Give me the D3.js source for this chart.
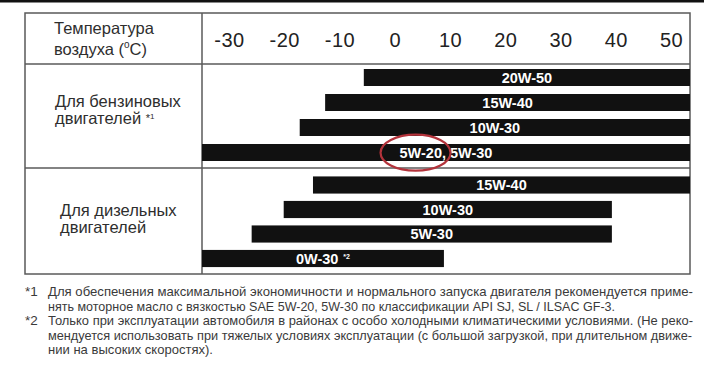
<!DOCTYPE html>
<html>
<head>
<meta charset="utf-8">
<script src="https://cdn.jsdelivr.net/npm/d3@7"></script>
<style>
  html, body { margin: 0; padding: 0; background: #fff; }
  svg { display: block; }
  text { font-family: "Liberation Sans", Arial, sans-serif; }
</style>
</head>
<body>
<script>
// ---------- data ----------
const tempTicks = [-30, -20, -10, 0, 10, 20, 30, 40, 50];

const petrolGrades = ["20W-50", "15W-40", "10W-30", "5W-20, 5W-30"];
const petrolFrom   = [-5.6, -12.6, -17.2, -40];
const petrolTo     = [60, 60, 60, 60];
const petrolNotes  = ["", "", "", ""];

const dieselGrades = ["15W-40", "10W-30", "5W-30", "0W-30"];
const dieselFrom   = [-14.8, -20.1, -25.9, -40];
const dieselTo     = [60, 39.3, 39.3, 8.9];
const dieselNotes  = ["", "", "", "*2"];

const headerLines = ["Температура", "воздуха ("];
const petrolLabel = ["Для бензиновых", "двигателей "];
const dieselLabel = ["Для дизельных", "двигателей"];

const footMarks = ["*1", "", "*2", "", ""];
const footLines = [
  "Для обеспечения максимальной экономичности и нормального запуска двигателя рекомендуется приме-",
  "нять моторное масло с вязкостью SAE 5W-20, 5W-30 по классификации API SJ, SL / ILSAC GF-3.",
  "Только при эксплуатации автомобиля в районах с особо холодными климатическими условиями. (Не реко-",
  "мендуется использовать при тяжелых условиях эксплуатации (с большой загрузкой, при длительном движе-",
  "нии на высоких скоростях)."
];
const footWidths = [645, 567, 645, 644, 165];

// ---------- layout ----------
const W = 712, H = 373;
const tableL = 25, tableR = 690, tableT = 13, headerB = 64, sepY = 168, tableB = 274, divX = 202;

const svg = d3.select("body").append("svg").attr("width", W).attr("height", H);
svg.append("rect").attr("width", W).attr("height", H).attr("fill", "#fff");

// top dark scan edge
svg.append("rect").attr("x", 0).attr("y", 0).attr("width", 704).attr("height", 2.5).attr("fill", "#111");

const x = d3.scaleLinear().domain([-30, 50]).range([229, 671]);

const yPetrol = d3.scaleBand().domain(petrolGrades.map((d, i) => i)).range([65, 165]).paddingInner(0.32).paddingOuter(0.16);
const yDiesel = d3.scaleBand().domain(dieselGrades.map((d, i) => i)).range([172.75, 270.75]).paddingInner(0.3).paddingOuter(0.15);

// clip for the bar area
svg.append("clipPath").attr("id", "plotClip")
  .append("rect").attr("x", divX).attr("y", headerB).attr("width", tableR - divX).attr("height", tableB - headerB);

// ---------- table lines ----------
const lineColor = "#5a5a5a";
const grid = svg.append("g").attr("stroke", lineColor).attr("stroke-width", 1.5).attr("fill", "none");
grid.append("rect").attr("x", tableL).attr("y", tableT).attr("width", tableR - tableL).attr("height", tableB - tableT);
grid.append("line").attr("x1", divX).attr("x2", divX).attr("y1", tableT).attr("y2", tableB);
grid.append("line").attr("x1", tableL).attr("x2", tableR).attr("y1", headerB).attr("y2", headerB);
grid.append("line").attr("x1", tableL).attr("x2", tableR).attr("y1", sepY).attr("y2", sepY);

// ---------- axis (temperature labels) ----------
const axis = d3.axisBottom(x).tickValues(tempTicks).tickSize(0).tickPadding(0).tickFormat(d => String(d));
const ag = svg.append("g").attr("transform", "translate(0,33)").call(axis);
ag.select(".domain").remove();
ag.selectAll("text").attr("font-size", 20).attr("fill", "#222")
  .attr("font-family", "'Liberation Sans', Arial, sans-serif").style("letter-spacing", "0.5px");

// ---------- header / row labels ----------
const lab = svg.append("g").attr("fill", "#2e2e2e").attr("font-size", 16.5);
lab.append("text").attr("x", 54).attr("y", 34).text(headerLines[0]);
const h2 = lab.append("text").attr("x", 54).attr("y", 55).text(headerLines[1]);
h2.append("tspan").attr("font-size", 10).attr("dy", -7).text("o");
h2.append("tspan").attr("dy", 7).text("C)");

lab.append("text").attr("x", 55).attr("y", 107).text(petrolLabel[0]);
const p2 = lab.append("text").attr("x", 55).attr("y", 124).text(petrolLabel[1]);
p2.append("tspan").attr("font-size", 11).attr("dy", -2).text("*");
p2.append("tspan").attr("font-size", 8).attr("dy", -3).text("1");

lab.append("text").attr("x", 60).attr("y", 216).text(dieselLabel[0]);
lab.append("text").attr("x", 60).attr("y", 233).text(dieselLabel[1]);

// ---------- bars ----------
function drawGroup(grades, from, to, notes, yScale) {
  const rows = grades.map((g, i) => ({ g, i, from: from[i], to: to[i], note: notes[i] }));
  const gb = svg.append("g").attr("clip-path", "url(#plotClip)");
  gb.selectAll("rect").data(rows).join("rect")
    .attr("x", d => x(d.from))
    .attr("width", d => x(d.to) - x(d.from))
    .attr("y", d => yScale(d.i))
    .attr("height", yScale.bandwidth())
    .attr("fill", "#111");
  const labels = svg.append("g").selectAll("text").data(rows).join("text")
    .attr("x", d => (Math.max(x(d.from), divX) + Math.min(x(d.to), tableR)) / 2)
    .attr("y", d => yScale(d.i) + yScale.bandwidth() / 2)
    .attr("dy", "0.36em")
    .attr("text-anchor", "middle")
    .attr("fill", "#fff")
    .attr("font-weight", "bold")
    .attr("font-size", 14.5)
    .text(d => d.g);
  labels.filter(d => d.note).append("tspan").attr("font-size", 7).attr("dx", 5).attr("dy", -5).text(d => d.note);
  return labels;
}
const petrolLabels = drawGroup(petrolGrades, petrolFrom, petrolTo, petrolNotes, yPetrol);
drawGroup(dieselGrades, dieselFrom, dieselTo, dieselNotes, yDiesel);

// red ellipse annotation around "5W-20,"
const hl = petrolLabels.filter(d => d.i === 3).node();
const bb = hl.getBBox();
svg.append("ellipse")
  .attr("cx", bb.x + 16).attr("cy", bb.y + bb.height / 2)
  .attr("rx", 35).attr("ry", 18)
  .attr("fill", "none").attr("stroke", "#b3333b").attr("stroke-width", 2.2);

// ---------- footnotes ----------
const fg = svg.append("g").attr("fill", "#3a3a3a").attr("font-size", 12.6);
const baseY = 296, pitch = 14.5;
footLines.forEach((t, i) => {
  if (footMarks[i]) fg.append("text").attr("x", 25).attr("y", baseY + i * pitch).attr("font-size", 13.5).text(footMarks[i]);
  fg.append("text").attr("x", 48).attr("y", baseY + i * pitch)
    .attr("textLength", footWidths[i]).attr("lengthAdjust", "spacingAndGlyphs").text(t);
});
</script>
</body>
</html>
